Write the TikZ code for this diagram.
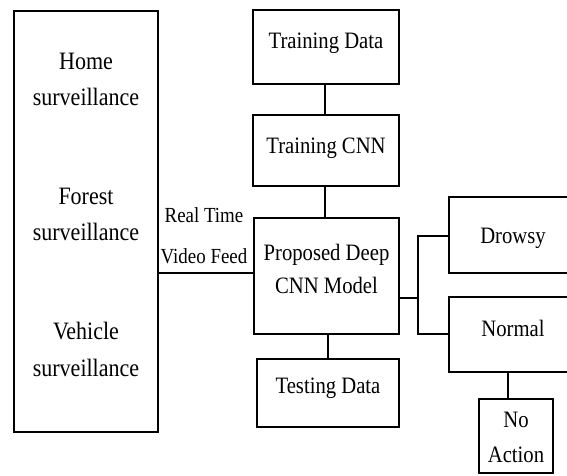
\documentclass[tikz,border=0pt]{standalone}
\usepackage{fontspec}
\setmainfont{Liberation Serif}[FakeStretch=0.88]
\begin{document}
\begin{tikzpicture}[x=1pt,y=-1pt,
  boxx/.style={draw=black,line width=2.6pt,rectangle,inner sep=0pt,minimum width=#1},
  wire/.style={draw=black,line width=2.6pt},
  txt/.style={anchor=base,inner sep=0pt,font=\fontsize{23.5}{27}\selectfont},
  bigtxt/.style={anchor=base,inner sep=0pt,font=\fontsize{25}{28}\selectfont},
  lbl/.style={anchor=base,inner sep=0pt,font=\fontsize{21.5}{25}\selectfont}]
\clip (0,0) rectangle (567,475);
\fill[white] (0,0) rectangle (567,475);
% boxes
\node[boxx=144pt,minimum height=421pt] (left) at (86,221.5) {};
\node[boxx=146pt,minimum height=74pt] (tdata) at (326,47) {};
\node[boxx=146pt,minimum height=71pt] (tcnn) at (326,150.5) {};
\node[boxx=145pt,minimum height=116pt] (prop) at (326.5,276) {};
\node[boxx=142pt,minimum height=68pt] (test) at (328,393) {};
\node[boxx=126pt,minimum height=76pt] (drowsy) at (512,235) {};
\node[boxx=126pt,minimum height=75pt] (normal) at (512,334.5) {};
\node[boxx=74pt,minimum height=74pt] (noact) at (516,436) {};
% texts
\node[bigtxt] (home1) at (86,69) {Home};
\node[bigtxt] (home2) at (86,105) {surveillance};
\node[bigtxt] (forest1) at (86,204) {Forest};
\node[bigtxt] (forest2) at (86,240) {surveillance};
\node[bigtxt] (veh1) at (86,339) {Vehicle};
\node[bigtxt] (veh2) at (86,376) {surveillance};
\node[txt] (tdatat) at (326,48) {Training Data};
\node[txt] (tcnnt) at (326,153) {Training CNN};
\node[txt] (prop1) at (326.5,260) {Proposed Deep};
\node[txt] (prop2) at (326.5,293) {CNN Model};
\node[txt] (testt) at (328,393) {Testing Data};
\node[txt] (drowsyt) at (513,243) {Drowsy};
\node[txt] (normalt) at (513,336) {Normal};
\node[txt] (noact1) at (516,427) {No};
\node[txt] (noact2) at (516,462) {Action};
\node[lbl] (rt) at (204,222) {Real Time};
\node[lbl] (vf) at (204,263) {Video Feed};
% connectors
\coordinate (br) at (418,298);
\draw[wire] (tdata.south -| 325,0) -- (tcnn.north -| 325,0);
\draw[wire] (tcnn.south -| 325,0) -- (prop.north -| 325,0);
\draw[wire] (prop.south -| 328,0) -- (test.north -| 328,0);
\draw[wire] (left.east |- 0,273) -- (prop.west |- 0,273);
\draw[wire] (prop.east |- br) -- (br);
\draw[wire] (drowsy.west |- 0,236) -| (br |- 0,236) -- (br |- 0,334) -- (normal.west |- 0,334);
\draw[wire] (normal.south -| 508,0) -- (noact.north -| 508,0);
\end{tikzpicture}
\end{document}
